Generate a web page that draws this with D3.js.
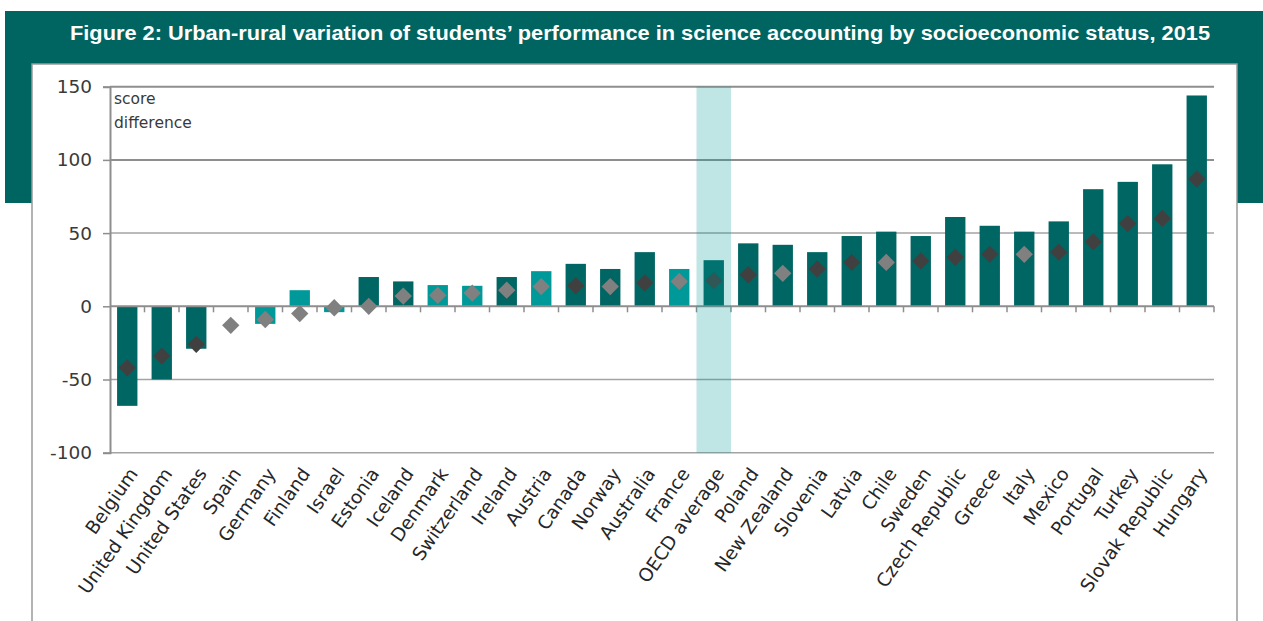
<!DOCTYPE html>
<html>
<head>
<meta charset="utf-8">
<script src="https://cdn.jsdelivr.net/npm/d3@7"></script>
<style>
  html, body { margin: 0; padding: 0; background: #ffffff; }
  svg { display: block; }
</style>
</head>
<body>
<svg id="chart" width="1263" height="621"></svg>
<script>
// ---- data ----
const titleText = "Figure 2: Urban-rural variation of students\u2019 performance in science accounting by socioeconomic status, 2015";
const axisNote = ["score", "difference"];
const countries = ["Belgium", "United Kingdom", "United States", "Spain", "Germany", "Finland", "Israel", "Estonia", "Iceland", "Denmark", "Switzerland", "Ireland", "Austria", "Canada", "Norway", "Australia", "France", "OECD average", "Poland", "New Zealand", "Slovenia", "Latvia", "Chile", "Sweden", "Czech Republic", "Greece", "Italy", "Mexico", "Portugal", "Turkey", "Slovak Republic", "Hungary"];
// score difference before accounting for socioeconomic status (bars)
const diffBefore = [-68, -50, -29, 0, -12, 11, -4, 20, 17, 14.5, 14, 20, 24, 29, 25.5, 37, 25.5, 31.5, 43, 42, 37, 48, 51, 48, 61, 55, 51, 58, 80, 85, 97, 144];
const beforeSignificant = [true, true, true, false, false, false, false, true, true, false, false, true, false, true, true, true, false, true, true, true, true, true, true, true, true, true, true, true, true, true, true, true];
// score difference after accounting for socioeconomic status (diamonds)
const diffAfter = [-42, -34, -26, -13, -9, -5, -1, 0, 7, 7.5, 9, 11, 13.5, 14, 13.5, 16, 17, 17.5, 21.5, 22.5, 25.5, 30, 30, 31, 33.5, 35.5, 35.5, 37, 44, 56.5, 60, 87];
const afterSignificant = [true, true, true, false, false, false, false, false, false, false, false, false, false, true, false, true, false, true, true, false, true, true, false, true, true, true, false, true, true, true, true, true];
const highlighted = ["OECD average"];
const yTicks = [-100, -50, 0, 50, 100, 150];

// ---- drawing ----
const svg = d3.select("#chart");
const teal = "#006461";

// header / frame
svg.append("rect").attr("x", 5).attr("y", 11).attr("width", 1258).attr("height", 192).attr("fill", teal);
svg.append("rect").attr("x", 32).attr("y", 64).attr("width", 1205).attr("height", 570)
  .attr("fill", "#ffffff").attr("stroke", "#9a9a9a").attr("stroke-width", 1.5);
svg.append("text").attr("x", 70).attr("y", 40)
  .attr("textLength", 1140).attr("lengthAdjust", "spacingAndGlyphs")
  .attr("fill", "#ffffff").attr("font-family", "Liberation Sans, Arial, sans-serif")
  .attr("font-weight", "bold").attr("font-size", 20).text(titleText);

const plotLeft = 110, plotRight = 1214, plotTop = 86.7, plotBottom = 452.7;
const x = d3.scaleBand().domain(countries).range([plotLeft, plotRight]).paddingInner(0.41).paddingOuter(0.205);
const y = d3.scaleLinear().domain([-100, 150]).range([plotBottom, plotTop]);
const step = x.step();
const slotLeft = c => x(c) - x.paddingInner() * step / 2;

// gridlines
svg.append("g").selectAll("line").data(yTicks.filter(t => t !== 0)).join("line")
  .attr("x1", plotLeft).attr("x2", plotRight).attr("y1", d => y(d)).attr("y2", d => y(d))
  .attr("stroke", d => d >= 100 ? "#8e8e8e" : "#a3a3a3").attr("stroke-width", d => d >= 100 ? 2 : 1.5);

// y axis
const yAxis = d3.axisLeft(y).tickValues(yTicks).tickSize(7).tickPadding(11).tickFormat(d => String(d));
const gy = svg.append("g").attr("transform", `translate(${plotLeft},0)`).call(yAxis);
gy.select(".domain").attr("stroke", "#8e8e8e").attr("stroke-width", 2);
gy.selectAll(".tick line").attr("stroke", "#8e8e8e").attr("stroke-width", 1.5);
gy.selectAll(".tick text").attr("font-family", "DejaVu Sans, sans-serif").attr("font-size", 18.5).attr("fill", "#3a3a3a");

// axis note
svg.append("text").attr("font-family", "DejaVu Sans, sans-serif").attr("font-size", 15.5).attr("fill", "#3a3a3a")
  .selectAll("tspan").data(axisNote).join("tspan")
  .attr("x", 114).attr("y", (d, i) => 104 + i * 24).text(d => d);

// bars
const rows = countries.map((c, i) => ({ c, before: diffBefore[i], bs: beforeSignificant[i], after: diffAfter[i], as: afterSignificant[i] }));
svg.append("g").selectAll("rect").data(rows).join("rect")
  .attr("x", d => x(d.c)).attr("width", x.bandwidth())
  .attr("y", d => y(Math.max(0, d.before))).attr("height", d => Math.abs(y(d.before) - y(0)))
  .attr("fill", d => d.bs ? "#006663" : "#009999");

// x axis line with ticks at slot boundaries
svg.append("line").attr("x1", plotLeft).attr("x2", plotRight).attr("y1", y(0)).attr("y2", y(0))
  .attr("stroke", "#8e8e8e").attr("stroke-width", 2);
const boundaries = countries.map(c => slotLeft(c) + step);
svg.append("g").selectAll("line").data(boundaries).join("line")
  .attr("x1", d => d).attr("x2", d => d).attr("y1", y(0)).attr("y2", y(0) + 6)
  .attr("stroke", "#8e8e8e").attr("stroke-width", 1.5);

// diamonds
svg.append("g").selectAll("path").data(rows).join("path")
  .attr("d", d3.symbol(d3.symbolSquare, 150))
  .attr("transform", d => `translate(${x(d.c) + x.bandwidth() / 2},${y(d.after)}) rotate(45)`)
  .attr("fill", d => d.as ? "#404040" : "#808080");

// highlight band (OECD average)
svg.append("g").selectAll("rect").data(highlighted).join("rect")
  .attr("x", d => slotLeft(d)).attr("width", step).attr("y", plotTop).attr("height", plotBottom - plotTop)
  .attr("fill", "#009999").attr("fill-opacity", 0.25);

// category labels
svg.append("g").selectAll("text").data(countries).join("text")
  .attr("transform", d => `translate(${x(d) + x.bandwidth() / 2 + 6},470) rotate(-55)`)
  .attr("text-anchor", "end").attr("dy", "0.35em")
  .attr("font-family", "DejaVu Sans, sans-serif").attr("font-size", 18.5).attr("fill", "#262626")
  .text(d => d);
</script>
</body>
</html>
